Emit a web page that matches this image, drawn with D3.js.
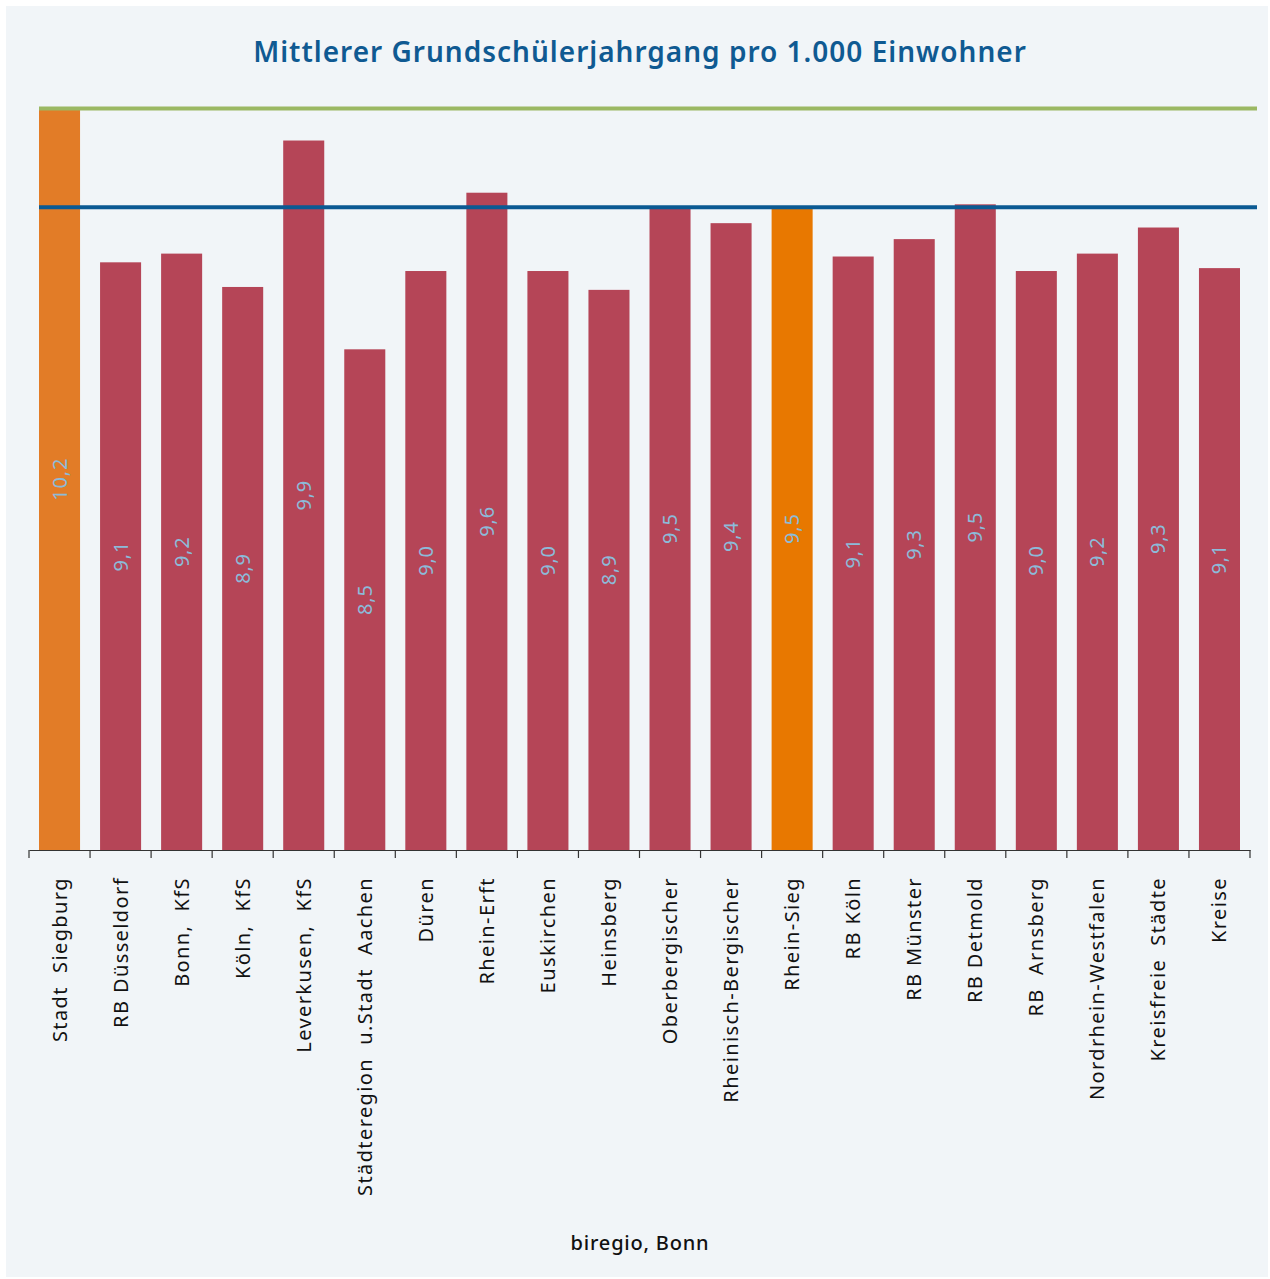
<!DOCTYPE html>
<html>
<head>
<meta charset="utf-8">
<script src="https://cdn.jsdelivr.net/npm/d3@7"></script>
<style>
  html, body { margin: 0; padding: 0; background: #ffffff; }
  svg { display: block; }
</style>
</head>
<body>
<svg id="chart" width="1270" height="1279"></svg>
<script>
const categories = ["Stadt  Siegburg", "RB Düsseldorf", "Bonn,  KfS", "Köln,  KfS", "Leverkusen,  KfS",
  "Städteregion  u.Stadt  Aachen", "Düren", "Rhein-Erft", "Euskirchen", "Heinsberg",
  "Oberbergischer", "Rheinisch-Bergischer", "Rhein-Sieg", "RB Köln", "RB Münster",
  "RB Detmold", "RB  Arnsberg", "Nordrhein-Westfalen", "Kreisfreie  Städte", "Kreise"];
const values = [10.16, 9.10, 9.16, 8.93, 9.94, 8.50, 9.04, 9.58, 9.04, 8.91,
  9.48, 9.37, 9.48, 9.14, 9.26, 9.50, 9.04, 9.16, 9.34, 9.06];
const highlight = ["Stadt  Siegburg", "Rhein-Sieg"];
const refLines = [
  { name: "Stadt  Siegburg", color: "#9bb863" },
  { name: "Rhein-Sieg", color: "#0b5a93" }
];
const title = "Mittlerer Grundschülerjahrgang pro 1.000 Einwohner";
const source = "biregio, Bonn";

const svg = d3.select("#chart");
const W = 1270, H = 1279;

svg.append("rect").attr("x", 6).attr("y", 6).attr("width", W - 8).attr("height", H - 8)
  .attr("fill", "#f1f5f8");

const x = d3.scaleBand().domain(categories).range([29, 1250]).padding(0);
const y = d3.scaleLinear().domain([5.047, 10.5]).range([850, 850 - 145 * (10.5 - 5.047)]);

const barFrac = 41 / 61;
const barW = x.bandwidth() * barFrac;
const barOff = (x.bandwidth() - barW) / 2;

const colorFor = (c) => {
  if (c === highlight[0]) return "#e27c27";
  if (c === highlight[1]) return "#e87800";
  return "#b54557";
};

const data = categories.map((c, i) => ({ c, v: values[i] }));

svg.append("g").selectAll("rect").data(data).join("rect")
  .attr("x", d => x(d.c) + barOff)
  .attr("width", barW)
  .attr("y", d => y(d.v))
  .attr("height", d => y.range()[0] - y(d.v))
  .attr("fill", d => colorFor(d.c));

const fmt = v => d3.format(".1f")(v).replace(".", ",");

svg.append("g").selectAll("text").data(data).join("text")
  .attr("transform", d => `translate(${x(d.c) + x.bandwidth() / 2},${(y(d.v) + y.range()[0]) / 2}) rotate(-90)`)
  .attr("text-anchor", "middle")
  .attr("dy", "0.35em")
  .attr("font-family", "'Noto Sans', sans-serif")
  .attr("font-size", 20)
  .attr("letter-spacing", 0.8)
  .attr("fill", "#8cbbd9")
  .text(d => fmt(d.v));

// reference lines
const firstLeft = x(categories[0]) + barOff;
refLines.forEach(r => {
  const v = values[categories.indexOf(r.name)];
  svg.append("line")
    .attr("x1", firstLeft).attr("x2", x.range()[1] + 7)
    .attr("y1", y(v)).attr("y2", y(v))
    .attr("stroke", r.color).attr("stroke-width", 4);
});

// x axis
const axis = d3.axisBottom(x).tickSize(0).tickFormat("");
const gx = svg.append("g").attr("transform", `translate(0,${y.range()[0]})`).call(axis);
gx.select(".domain").attr("stroke", "#333").attr("stroke-width", 1.2);
const boundaries = categories.map(c => x(c)).concat([x.range()[1]]);
gx.selectAll("line.bnd").data(boundaries).join("line").attr("class", "bnd")
  .attr("x1", d => d).attr("x2", d => d).attr("y1", 0).attr("y2", 8)
  .attr("stroke", "#333").attr("stroke-width", 1.2);

svg.append("g").selectAll("text").data(categories).join("text")
  .attr("transform", c => `translate(${x(c) + x.bandwidth() / 2},877) rotate(-90)`)
  .attr("text-anchor", "end")
  .attr("dy", "0.35em")
  .attr("font-family", "'Noto Sans', sans-serif")
  .attr("font-size", 20)
  .attr("letter-spacing", 1.4)
  .attr("fill", "#111")
  .style("white-space", "pre")
  .text(c => c);

svg.append("text").attr("x", 640).attr("y", 62).attr("text-anchor", "middle")
  .attr("font-family", "'Noto Sans', sans-serif").attr("font-size", 28).attr("font-weight", 600)
  .attr("letter-spacing", 1).attr("fill", "#0f5a92").text(title);

svg.append("text").attr("x", 640).attr("y", 1250).attr("text-anchor", "middle")
  .attr("font-family", "'Noto Sans', sans-serif").attr("font-size", 20).attr("font-weight", 500)
  .attr("letter-spacing", 0.8).attr("fill", "#111").text(source);
</script>
</body>
</html>
